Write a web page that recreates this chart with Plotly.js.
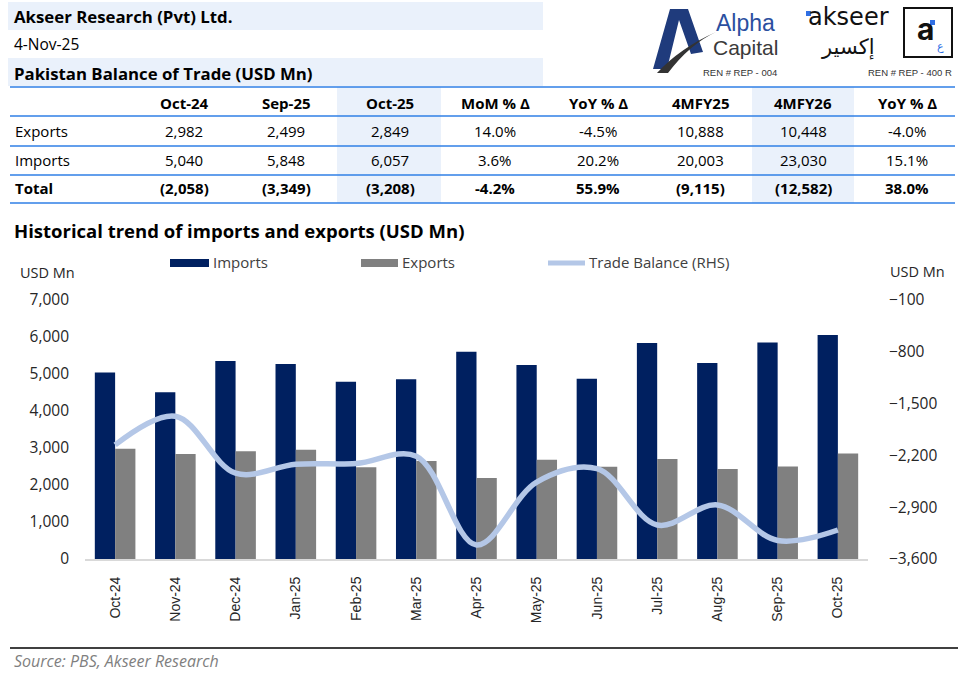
<!DOCTYPE html>
<html>
<head>
<meta charset="utf-8">
<script src="https://cdn.plot.ly/plotly-3.0.1.min.js"></script>
<style>
  html, body { margin: 0; padding: 0; background: #ffffff; }
  #chart { width: 966px; height: 678px; }
</style>
</head>
<body>
<div id="chart"></div>
<script>
// ---------------- DATA ----------------
const months = ['Oct-24','Nov-24','Dec-24','Jan-25','Feb-25','Mar-25','Apr-25','May-25','Jun-25','Jul-25','Aug-25','Sep-25','Oct-25'];
const importsMn = [5040, 4510, 5350, 5270, 4790, 4860, 5600, 5240, 4870, 5840, 5300, 5848, 6057];
const exportsMn = [2982, 2840, 2910, 2950, 2480, 2650, 2190, 2680, 2490, 2700, 2430, 2499, 2849];
const balanceMn = [-2058, -1670, -2440, -2320, -2310, -2210, -3410, -2560, -2380, -3140, -2870, -3349, -3208];
const seriesNames = ['Imports', 'Exports', 'Trade Balance (RHS)'];

const leftTicks = [0, 1000, 2000, 3000, 4000, 5000, 6000, 7000];
const rightTicks = [-3600, -2900, -2200, -1500, -800, -100];

const tableHeader = ['Oct-24','Sep-25','Oct-25','MoM % Δ','YoY % Δ','4MFY25','4MFY26','YoY % Δ'];
const rowLabels = ['Exports','Imports','Total'];
const rowExports = ['2,982','2,499','2,849','14.0%','-4.5%','10,888','10,448','-4.0%'];
const rowImports = ['5,040','5,848','6,057','3.6%','20.2%','20,003','23,030','15.1%'];
const rowTotal = ['(2,058)','(3,349)','(3,208)','-4.2%','55.9%','(9,115)','(12,582)','38.0%'];

const companyName = 'Akseer Research (Pvt) Ltd.';
const reportDate = '4-Nov-25';
const tableTitle = 'Pakistan Balance of Trade (USD Mn)';
const chartTitle = 'Historical trend of imports and exports (USD Mn)';
const unitLabel = 'USD Mn';
const sourceText = 'Source: PBS, Akseer Research';

// ---------------- GEOMETRY HELPERS ----------------
const L = 85, R = 868, T = 300, B = 559;
const px = x => (x - L) / (R - L);
const py = y => (B - y) / (B - T);

const FONT = 'Open Sans, Liberation Sans, sans-serif';
const annotations = [];
const shapes = [];

function ann(text, x, y, o) {
  o = o || {};
  annotations.push({
    text: text, x: px(x), y: py(y), xref: 'paper', yref: 'paper', showarrow: false,
    xanchor: o.xa || 'center', yanchor: o.ya || 'middle',
    font: { family: o.family || FONT, size: o.size || 15, color: o.color || '#000000',
            weight: o.weight || 'normal', style: o.style || 'normal' },
    borderpad: 0
  });
}
function rect(x0, y0, x1, y1, fill, lineColor, lineWidth, layer) {
  shapes.push({ type: 'rect', xref: 'paper', yref: 'paper',
    x0: px(x0), x1: px(x1), y0: py(y1), y1: py(y0),
    fillcolor: fill || 'rgba(0,0,0,0)',
    line: { color: lineColor || 'rgba(0,0,0,0)', width: lineWidth || 0 },
    layer: layer || 'below' });
}
function hline(x0, x1, y, color, width) {
  shapes.push({ type: 'line', xref: 'paper', yref: 'paper',
    x0: px(x0), x1: px(x1), y0: py(y), y1: py(y),
    line: { color: color, width: width }, layer: 'above' });
}
function path(points, fill, closed) {
  let d = '';
  points.forEach((p, i) => {
    if (p.length === 4) {
      d += ' Q' + px(p[0]) + ',' + py(p[1]) + ' ' + px(p[2]) + ',' + py(p[3]);
    } else {
      d += (i === 0 ? 'M' : ' L') + px(p[0]) + ',' + py(p[1]);
    }
  });
  if (closed !== false) d += ' Z';
  shapes.push({ type: 'path', xref: 'paper', yref: 'paper', path: d,
    fillcolor: fill, line: { width: 0, color: 'rgba(0,0,0,0)' }, layer: 'above' });
}

// ---------------- HEADER ----------------
const BAND = '#EAF1FB';
rect(8, 2, 543, 30, BAND);
rect(8, 58, 543, 86, BAND);
ann(companyName, 13, 16, { xa: 'left', size: 16.8, weight: 'bold' });
ann(reportDate, 13, 44, { xa: 'left', size: 15.5 });
ann(tableTitle, 13, 73, { xa: 'left', size: 16.8, weight: 'bold' });

// Alpha Capital logo (drawn)
path([[653, 69], [670, 9], [688, 9], [703, 52], [691, 54], [679, 20], [667, 69]], '#1F3B7C');
path([[657, 73], [680, 48, 716, 32], [690, 44, 668, 73]], '#333333');
ann('Alpha', 745, 23, { size: 23, family: 'Liberation Sans, Arial, sans-serif', color: '#2B4FA0' });
ann('Capital', 745, 47, { size: 21, family: 'Liberation Sans, Arial, sans-serif', color: '#3A3A3A' });
ann('REN # REP - 004', 740, 72, { size: 9.5, family: 'Liberation Sans, Arial, sans-serif', color: '#333333' });

// akseer logo (drawn)
ann('akseer', 848, 17, { size: 24, family: 'DejaVu Sans, sans-serif', color: '#111111' });
rect(806, 11, 811, 16, '#2F6FE4', null, 0, 'above');
ann('إكسير', 848, 47, { size: 21, family: 'DejaVu Sans, sans-serif', color: '#111111' });
rect(904, 8, 952, 57, 'rgba(0,0,0,0)', '#111111', 2, 'above');
ann('a', 925, 29, { size: 30, family: 'Inter, sans-serif', weight: 'bold', color: '#111111' });
rect(930, 20, 935, 25, '#2F6FE4', null, 0, 'above');
ann('ع', 940, 46, { size: 11, family: 'DejaVu Sans, sans-serif', color: '#2F6FE4' });
ann('REN # REP - 400 R', 910, 72, { size: 9.5, family: 'Liberation Sans, Arial, sans-serif', color: '#333333' });

// ---------------- TABLE ----------------
const colCenters = [184, 286, 390, 495, 598, 700, 803, 907];
const rowY = [103, 131, 160, 188];
const lineY = [87, 116, 146, 175, 203];
rect(337, 87, 441, 203, BAND);
rect(752, 87, 854, 203, BAND);
lineY.forEach(y => hline(10, 955, y, '#2F7FE6', 1.5));
tableHeader.forEach((h, i) => ann(h, colCenters[i], rowY[0], { size: 15, weight: 'bold' }));
const rows = [rowExports, rowImports, rowTotal];
rowLabels.forEach((lab, r) => {
  const bold = r === 2;
  ann(lab, 14, rowY[r + 1], { xa: 'left', size: 15, weight: bold ? 'bold' : 'normal' });
  rows[r].forEach((v, i) => ann(v, colCenters[i], rowY[r + 1], { size: 15, weight: bold ? 'bold' : 'normal' }));
});

// ---------------- CHART TEXTS ----------------
ann(chartTitle, 13, 230, { xa: 'left', size: 18.5, weight: 'bold' });
ann(unitLabel, 19, 272, { xa: 'left', size: 14.5, color: '#262626' });
ann(unitLabel, 889, 271, { xa: 'left', size: 14.5, color: '#262626' });

// manual legend
rect(170, 259, 209, 267, '#002060', null, 0, 'above');
rect(361, 259, 398, 267, '#808080', null, 0, 'above');
shapes.push({ type: 'line', xref: 'paper', yref: 'paper', x0: px(548), x1: px(585), y0: py(263), y1: py(263),
  line: { color: '#B4C7E7', width: 5 }, layer: 'above' });
ann(seriesNames[0], 212, 262, { xa: 'left', size: 15, color: '#404040' });
ann(seriesNames[1], 401, 262, { xa: 'left', size: 15, color: '#404040' });
ann(seriesNames[2], 588, 262, { xa: 'left', size: 15, color: '#404040' });

// bottom rule and source
hline(10, 958, 648, '#000000', 1.5);
ann(sourceText, 13, 661, { xa: 'left', size: 16, style: 'italic', color: '#7F7F7F' });

// ---------------- TRACES ----------------
const traces = [
  { type: 'bar', x: months, y: importsMn, name: seriesNames[0], marker: { color: '#002060' }, yaxis: 'y', hoverinfo: 'x+y' },
  { type: 'bar', x: months, y: exportsMn, name: seriesNames[1], marker: { color: '#808080' }, yaxis: 'y', hoverinfo: 'x+y' },
  { type: 'scatter', mode: 'lines', x: months, y: balanceMn, name: seriesNames[2], yaxis: 'y2',
    line: { color: '#B4C7E7', width: 5.5, shape: 'spline', smoothing: 1 } }
];

const layout = {
  width: 966, height: 678,
  margin: { l: L, r: 966 - R, t: T, b: 678 - B, pad: 0 },
  paper_bgcolor: '#ffffff', plot_bgcolor: '#ffffff',
  showlegend: false,
  barmode: 'group', bargap: 0.326, bargroupgap: 0,
  font: { family: FONT, color: '#000000' },
  xaxis: {
    type: 'category', tickangle: -90, showgrid: false, zeroline: false,
    showline: true, linecolor: '#D9D9D9', linewidth: 2, ticks: '',
    tickfont: { family: 'Liberation Sans, Arial, sans-serif', size: 14, color: '#262626' },
    ticklabelstandoff: 10, fixedrange: true
  },
  yaxis: {
    range: [0, 7000], tickvals: leftTicks, tickformat: ',', showgrid: false, zeroline: false,
    showline: false, ticks: '', tickfont: { family: FONT, size: 15.5, color: '#262626' },
    ticklabelstandoff: 15, fixedrange: true
  },
  yaxis2: {
    overlaying: 'y', side: 'right', range: [-3600, -100], tickvals: rightTicks, tickformat: ',',
    showgrid: false, zeroline: false, showline: false, ticks: '',
    tickfont: { family: FONT, size: 15.5, color: '#262626' },
    ticklabelstandoff: 20, fixedrange: true
  },
  shapes: shapes,
  annotations: annotations
};

Plotly.newPlot('chart', traces, layout, { displayModeBar: false, staticPlot: true });
</script>
</body>
</html>
